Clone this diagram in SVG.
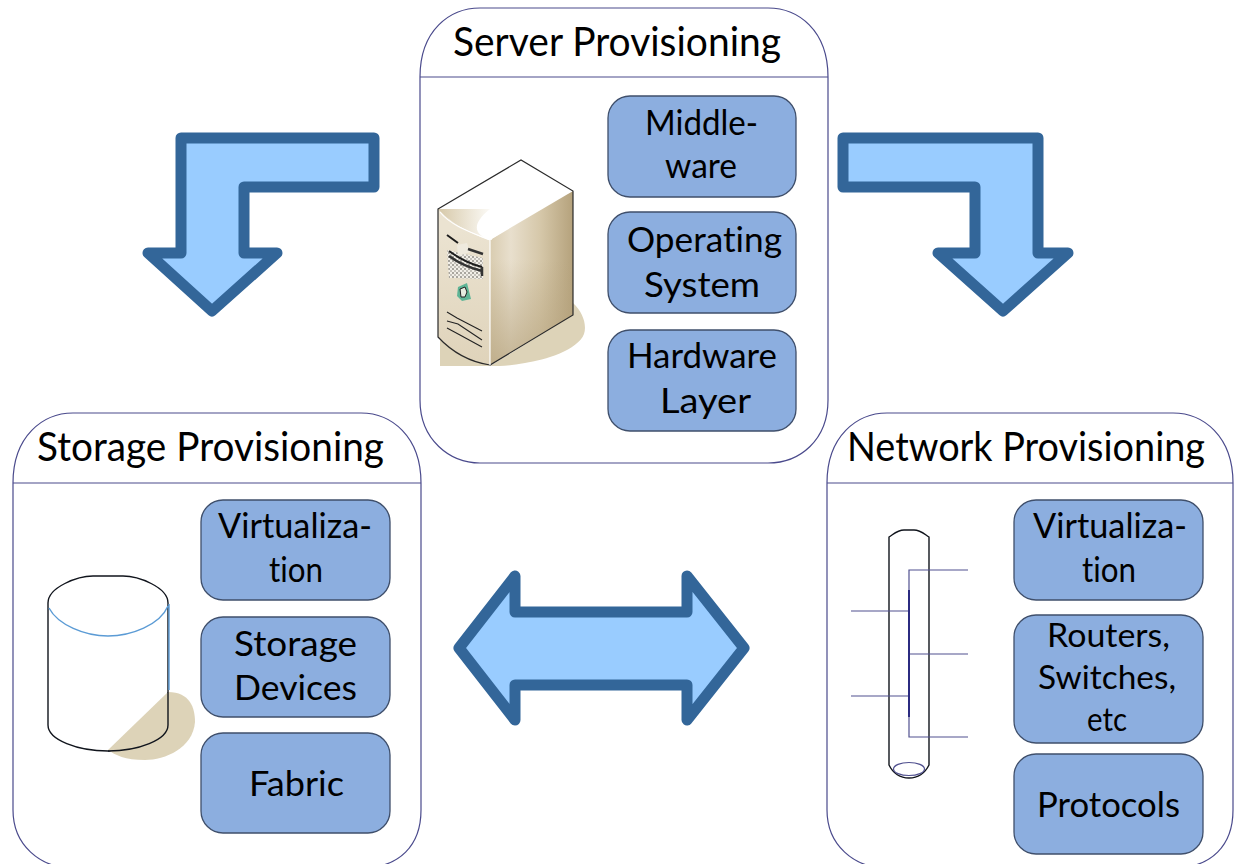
<svg xmlns="http://www.w3.org/2000/svg" width="1234" height="864" viewBox="0 0 1234 864">
<style>
.panel{fill:#fff;stroke:#4a4a8c;stroke-width:1.2}
.box{fill:#8caedf;stroke:#3f4f6b;stroke-width:1.3}
.arrow{fill:#99ccff;stroke:#336699;stroke-width:11;stroke-linejoin:round}
text{font-family:"Lato","Open Sans",sans-serif;fill:#000;text-anchor:start;font-variant-ligatures:none}
.title{font-size:41px}
.lbl{font-size:35px}
.sm{font-size:32px}
.ln{fill:none;stroke:#50508f;stroke-width:1.2}
.blk{fill:none;stroke:#10141c;stroke-width:1.4}
.sh{fill:#ddd3b8}
</style>
<defs>
<linearGradient id="sr" gradientUnits="userSpaceOnUse" x1="490" y1="0" x2="573" y2="0"><stop offset="0" stop-color="#d9ccb0"/><stop offset=".25" stop-color="#e8dfcd"/><stop offset=".6" stop-color="#d6c8aa"/><stop offset="1" stop-color="#b5a27c"/></linearGradient>
<linearGradient id="srv" gradientUnits="userSpaceOnUse" x1="0" y1="260" x2="0" y2="365"><stop offset="0" stop-color="#b5a27c" stop-opacity="0"/><stop offset="1" stop-color="#b5a27c" stop-opacity=".7"/></linearGradient>
<linearGradient id="sf" gradientUnits="userSpaceOnUse" x1="438" y1="0" x2="492" y2="0"><stop offset="0" stop-color="#d6c8a8"/><stop offset="1" stop-color="#fdfcf9"/></linearGradient>
<linearGradient id="sf2" gradientUnits="userSpaceOnUse" x1="0" y1="230" x2="0" y2="365"><stop offset="0" stop-color="#ebe3d1"/><stop offset="1" stop-color="#dfd3ba"/></linearGradient>
<pattern id="ht" width="4" height="4" patternUnits="userSpaceOnUse"><rect width="4" height="4" fill="#f2efe8"/><rect width="2" height="2" fill="#a9a69f"/><rect x="2" y="2" width="2" height="2" fill="#c4c1ba"/></pattern>
</defs>

<g id="connectors">
<path class="arrow" d="M181 138H374V187H244V253H277L212 311L148 253H181Z"/>
<path class="arrow" d="M843 138H1038V253H1068L1003 311L938 253H975V187H843Z"/>
<path class="arrow" d="M459 648L515 576V612H687V576L744 648L687 720V685H515V720Z"/>
</g>

<g id="server-provisioning">
<path class="panel" d="M420 77C420 30 450 8 480 8H768C798 8 828 30 828 77V400C828 440 800 463 768 463H480C450 463 420 440 420 400Z"/>
<path class="panel" d="M420 77H828"/>
<text class="title" x="453" y="56" textLength="328" lengthAdjust="spacingAndGlyphs">Server Provisioning</text>
</g>
<g id="server-icon">
<path class="sh" d="M440 340V366H490L573 315V303C583 312 587 325 584 334C578 350 545 360 525 363C510 366 500 366 490 366Z"/>
<path fill="url(#sr)" d="M490 240L573 191V315L490 365Z"/>
<path fill="url(#srv)" d="M490 240L573 191V315L490 365Z"/>
<path fill="url(#sf2)" d="M438 209V337C455 352 470 362 490 365V240C465 232 450 222 438 209Z"/>
<path fill="url(#sf)" d="M438 209H492V240C465 232 450 222 438 209Z"/>
<path fill="#fff" d="M520 160L573 191C540 205 515 225 490 240C475 235 470 225 490 209H438Z"/>
<path fill="url(#ht)" d="M447 250L483 258V279C470 279 458 278 449 278Z"/>
<path fill="#efeade" d="M457 245L467 243L470 252L458 256Z"/>
<path fill="none" stroke="#1c1c1c" stroke-width="2" d="M447 235L458 243M449 251C460 259 470 264 482 267"/>
<path fill="none" stroke="#333" stroke-width="2.5" d="M468 249L483 254M449 256C460 264 470 268 482 271M482 267V276"/>
<path fill="#5fb596" d="M458 287L467 283L471 299L462 301L457 296Z"/>
<path fill="#e6ece0" stroke="#222" stroke-width="1" d="M460 289L465 287L467 292L465 297L461 297Z"/>
<path fill="none" stroke="#222" stroke-width="1.1" d="M447 312L457 318L482 331M447 321L458 324L482 340M447 328L460 335L482 347"/>
<path fill="none" stroke="#2a2a2a" stroke-width="1.2" d="M438 209L521 160L573 191V315L490 365C470 362 452 352 438 337Z"/>
<path fill="none" stroke="#fff" stroke-width="1.2" d="M440 212C450 225 470 232 490 240V365"/>
</g>

<g id="middleware"><rect class="box" x="608" y="96" width="188" height="101" rx="22"/><text class="lbl" x="645" y="135" textLength="113" lengthAdjust="spacingAndGlyphs">Middle-</text><text class="lbl" x="665" y="178" textLength="72" lengthAdjust="spacingAndGlyphs">ware</text></g>
<g id="operating-system"><rect class="box" x="608" y="212" width="188" height="101" rx="22"/><text class="lbl" x="627" y="252" textLength="155" lengthAdjust="spacingAndGlyphs">Operating</text><text class="lbl" x="644" y="297" textLength="116" lengthAdjust="spacingAndGlyphs">System</text></g>
<g id="hardware-layer"><rect class="box" x="608" y="330" width="188" height="101" rx="22"/><text class="lbl" x="627" y="368" textLength="150" lengthAdjust="spacingAndGlyphs">Hardware</text><text class="lbl" x="660" y="413" textLength="91" lengthAdjust="spacingAndGlyphs">Layer</text></g>

<g id="storage-provisioning">
<path class="panel" d="M13 483C13 436 43 413 73 413H361C391 413 421 436 421 483V810C421 845 400 868 361 868H73C40 868 13 845 13 810Z"/>
<path class="panel" d="M13 483H421"/>
<text class="title" x="37" y="461" textLength="347" lengthAdjust="spacingAndGlyphs">Storage Provisioning</text>
</g>
<g id="storage-icon">
<path fill="#fff" class="blk" d="M48 603C48 587 78 576 93 576H123C138 576 168 587 168 603V725C168 740 138 751 108 751C78 751 48 740 48 725Z"/>
<path fill="none" stroke="#5b9bd5" stroke-width="1.4" d="M49 608C58 625 85 636 108 636C131 636 160 625 168 606M169 604V690"/>
<path class="sh" d="M168 692C190 692 195 708 195 722C193 748 165 760 145 760C125 760 115 755 108 750Z"/>
<path fill="none" stroke="#10141c" stroke-width="1.4" d="M168 692V725C168 740 138 751 108 751"/>
</g>
<g id="virtualization-storage"><rect class="box" x="201" y="500" width="189" height="100" rx="22"/><text class="lbl" x="218" y="538" textLength="154" lengthAdjust="spacingAndGlyphs">Virtualiza-</text><text class="lbl" x="269" y="582" textLength="54" lengthAdjust="spacingAndGlyphs">tion</text></g>
<g id="storage-devices"><rect class="box" x="201" y="617" width="189" height="100" rx="22"/><text class="lbl" x="234" y="656" textLength="123" lengthAdjust="spacingAndGlyphs">Storage</text><text class="lbl" x="234" y="700" textLength="123" lengthAdjust="spacingAndGlyphs">Devices</text></g>
<g id="fabric"><rect class="box" x="201" y="733" width="189" height="100" rx="22"/><text class="lbl" x="249" y="796" textLength="95" lengthAdjust="spacingAndGlyphs">Fabric</text></g>

<g id="network-provisioning">
<path class="panel" d="M827 483C827 436 857 413 887 413H1173C1203 413 1233 436 1233 483V810C1233 845 1212 868 1173 868H887C854 868 827 845 827 810Z"/>
<path class="panel" d="M827 483H1233"/>
<text class="title" x="847" y="461" textLength="358" lengthAdjust="spacingAndGlyphs">Network Provisioning</text>
</g>
<g id="network-icon">
<path class="blk" d="M889 537C895 533 898 530 904 530H914C920 530 923 533 929 537V765C925 773 918 778 909 778C900 778 893 773 889 765Z"/>
<ellipse cx="909" cy="769" rx="15.5" ry="6.5" fill="none" stroke="#50508f" stroke-width="1.2"/>
<path class="ln" d="M968 570H909V737H968M909 654H968M851 611H909M851 696H909"/>
<path fill="none" stroke="#2b2b80" stroke-width="2" d="M909 590V717"/>
</g>
<g id="virtualization-network"><rect class="box" x="1014" y="500" width="189" height="100" rx="22"/><text class="lbl" x="1033" y="538" textLength="154" lengthAdjust="spacingAndGlyphs">Virtualiza-</text><text class="lbl" x="1082" y="582" textLength="54" lengthAdjust="spacingAndGlyphs">tion</text></g>
<g id="routers-switches"><rect class="box" x="1014" y="615" width="189" height="128" rx="22"/><text class="sm" x="1047" y="647" textLength="123" lengthAdjust="spacingAndGlyphs">Routers,</text><text class="sm" x="1038" y="689" textLength="138" lengthAdjust="spacingAndGlyphs">Switches,</text><text class="sm" x="1087" y="731" textLength="40" lengthAdjust="spacingAndGlyphs">etc</text></g>
<g id="protocols"><rect class="box" x="1014" y="754" width="189" height="100" rx="22"/><text class="lbl" x="1037" y="817" textLength="143" lengthAdjust="spacingAndGlyphs">Protocols</text></g>
</svg>
